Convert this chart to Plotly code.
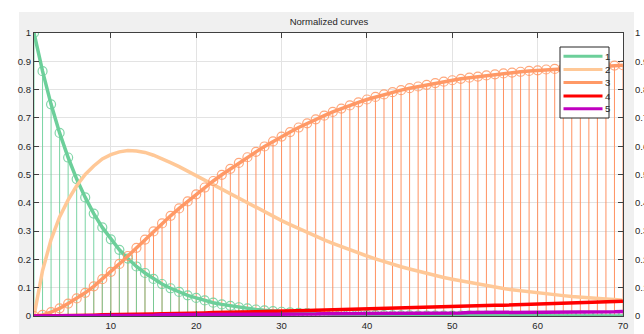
import plotly.graph_objects as go

# ---------------- data ----------------
x_vals = list(range(1, 71))

series_names = ["1", "2", "3", "4", "5"]
series_colors = ["#6ccf9a", "#ffc897", "#ff9966", "#ff0000", "#c000c0"]

s1 = [1.000, 0.865, 0.748, 0.647, 0.560, 0.484, 0.419, 0.362, 0.313, 0.271,
      0.234, 0.203, 0.175, 0.152, 0.131, 0.113, 0.098, 0.085, 0.073, 0.064,
      0.055, 0.047, 0.041, 0.036, 0.031, 0.027, 0.023, 0.020, 0.017, 0.015,
      0.013, 0.011, 0.010, 0.008, 0.007, 0.006, 0.005, 0.005, 0.004, 0.003,
      0.003, 0.003, 0.002, 0.002, 0.002, 0.001, 0.001, 0.001, 0.001, 0.001,
      0.001, 0.001, 0.001, 0.001, 0.001, 0.000, 0.000, 0.000, 0.000, 0.000,
      0.000, 0.000, 0.000, 0.000, 0.000, 0.000, 0.000, 0.000, 0.000, 0.000]

s2 = [0.000, 0.160, 0.270, 0.350, 0.410, 0.460, 0.500, 0.530, 0.555, 0.570,
      0.580, 0.585, 0.583, 0.578, 0.568, 0.556, 0.542, 0.528, 0.512, 0.496,
      0.480, 0.463, 0.447, 0.430, 0.414, 0.398, 0.382, 0.367, 0.352, 0.337,
      0.323, 0.309, 0.295, 0.282, 0.269, 0.257, 0.245, 0.234, 0.223, 0.212,
      0.202, 0.192, 0.183, 0.174, 0.166, 0.158, 0.150, 0.143, 0.136, 0.130,
      0.124, 0.118, 0.112, 0.107, 0.102, 0.097, 0.093, 0.089, 0.085, 0.081,
      0.078, 0.075, 0.072, 0.069, 0.066, 0.064, 0.062, 0.060, 0.058, 0.056]

s3 = [0.000, 0.004, 0.014, 0.027, 0.044, 0.062, 0.082, 0.105, 0.130, 0.156,
      0.184, 0.212, 0.241, 0.270, 0.299, 0.327, 0.354, 0.380, 0.405, 0.430,
      0.454, 0.477, 0.499, 0.520, 0.541, 0.561, 0.580, 0.599, 0.617, 0.634,
      0.650, 0.666, 0.681, 0.695, 0.708, 0.721, 0.733, 0.744, 0.755, 0.765,
      0.774, 0.783, 0.791, 0.798, 0.805, 0.811, 0.817, 0.823, 0.828, 0.833,
      0.838, 0.842, 0.846, 0.850, 0.854, 0.857, 0.860, 0.863, 0.866, 0.868,
      0.871, 0.873, 0.875, 0.877, 0.879, 0.881, 0.882, 0.884, 0.885, 0.886]

s4 = [0.000, 0.000, 0.001, 0.001, 0.002, 0.002, 0.003, 0.003, 0.004, 0.004,
      0.005, 0.005, 0.006, 0.006, 0.007, 0.008, 0.008, 0.009, 0.010, 0.010,
      0.011, 0.012, 0.012, 0.013, 0.014, 0.014, 0.015, 0.016, 0.016, 0.017,
      0.018, 0.019, 0.019, 0.020, 0.021, 0.022, 0.022, 0.023, 0.024, 0.025,
      0.026, 0.027, 0.027, 0.028, 0.029, 0.030, 0.031, 0.032, 0.032, 0.033,
      0.034, 0.035, 0.036, 0.037, 0.038, 0.038, 0.039, 0.040, 0.041, 0.042,
      0.043, 0.044, 0.045, 0.046, 0.047, 0.048, 0.049, 0.050, 0.051, 0.052]

s5 = [0.000, 0.000, 0.000, 0.001, 0.001, 0.001, 0.001, 0.002, 0.002, 0.002,
      0.002, 0.003, 0.003, 0.003, 0.003, 0.004, 0.004, 0.004, 0.004, 0.004,
      0.005, 0.005, 0.005, 0.005, 0.005, 0.006, 0.006, 0.006, 0.006, 0.006,
      0.007, 0.007, 0.007, 0.007, 0.008, 0.008, 0.008, 0.008, 0.009, 0.009,
      0.009, 0.009, 0.010, 0.010, 0.010, 0.010, 0.010, 0.011, 0.011, 0.011,
      0.011, 0.012, 0.012, 0.012, 0.012, 0.012, 0.013, 0.013, 0.013, 0.013,
      0.014, 0.014, 0.014, 0.014, 0.014, 0.015, 0.015, 0.015, 0.015, 0.016]

x_ticks = [10, 20, 30, 40, 50, 60, 70]
y_ticks = [0, 0.1, 0.2, 0.3, 0.4, 0.5, 0.6, 0.7, 0.8, 0.9, 1]
title_text = "Normalized curves"

# ---------------- layout geometry ----------------
W, H = 644, 334
L, R, T, B = 34, 21, 33, 18
PW, PH = W - L - R, H - T - B


def px(xp):
    return (xp - L) / PW


def py(yp):
    return (H - B - yp) / PH


FONT = "Liberation Sans"
TXT = "#262626"

fig = go.Figure()


def stems(xs, ys):
    sx, sy = [], []
    for a, b in zip(xs, ys):
        sx += [a, a, None]
        sy += [0, b, None]
    return sx, sy


# stems for series 1 and 3
for ys, col in [(s3, "rgba(255,140,90,0.95)"), (s1, "rgba(108,207,154,0.9)")]:
    sx, sy = stems(x_vals, ys)
    fig.add_trace(go.Scatter(x=sx, y=sy, mode="lines",
                             line=dict(color=col, width=1),
                             showlegend=False, hoverinfo="skip"))

all_series = [s1, s2, s3, s4, s5]
for i, ys in enumerate(all_series):
    col = series_colors[i]
    fig.add_trace(go.Scatter(x=x_vals, y=ys, mode="lines",
                             line=dict(color=col, width=3.5),
                             name=series_names[i], showlegend=False,
                             yaxis="y2" if i == 4 else "y"))
    if i in (0, 2):
        fig.add_trace(go.Scatter(x=x_vals, y=ys, mode="markers",
                                 marker=dict(symbol="circle-open", size=9,
                                             color=col, opacity=0.85,
                                             line=dict(width=1.2, color=col)),
                                 showlegend=False, hoverinfo="skip"))

shapes = []
# white strips outside the grey figure panel
shapes.append(dict(type="rect", xref="paper", yref="paper",
                   x0=px(-5), x1=px(W + 5), y0=py(12), y1=py(-5),
                   fillcolor="white", line=dict(width=0), layer="below"))
shapes.append(dict(type="rect", xref="paper", yref="paper",
                   x0=px(-5), x1=px(19), y0=py(H + 5), y1=py(-5),
                   fillcolor="white", line=dict(width=0), layer="below"))
shapes.append(dict(type="rect", xref="paper", yref="paper",
                   x0=px(634), x1=px(W + 5), y0=py(H + 5), y1=py(-5),
                   fillcolor="white", line=dict(width=0), layer="below"))

# manual legend
lx0, lx1, ly0, ly1 = 560, 609, 47, 118
shapes.append(dict(type="rect", xref="paper", yref="paper",
                   x0=px(lx0), x1=px(lx1), y0=py(ly1), y1=py(ly0),
                   fillcolor="white", line=dict(color="#262626", width=1),
                   layer="above"))
annotations = []
row_y = [56.3, 69.5, 82.5, 96, 108.7]
for i, name in enumerate(series_names):
    shapes.append(dict(type="line", xref="paper", yref="paper",
                       x0=px(563.5), x1=px(602.5), y0=py(row_y[i]), y1=py(row_y[i]),
                       line=dict(color=series_colors[i], width=3), layer="above"))
    annotations.append(dict(xref="paper", yref="paper", x=px(603), y=py(row_y[i]),
                            text=name, showarrow=False, xanchor="left", yanchor="middle",
                            font=dict(family=FONT, size=9.5, color=TXT)))

axis_common = dict(showline=True, linecolor="#404040", linewidth=1.2,
                   ticks="inside", ticklen=5, tickcolor="#404040", tickwidth=1,
                   showgrid=True, gridcolor="#e3e3e3", gridwidth=1, zeroline=False,
                   automargin=False,
                   tickfont=dict(family=FONT, size=9.5, color=TXT))

fig.update_layout(
    width=W, height=H,
    margin=dict(l=L, r=R, t=T, b=B, pad=0, autoexpand=False),
    paper_bgcolor="#f0f0f0", plot_bgcolor="white",
    showlegend=False,
    title=dict(text=title_text, x=px(329), xref="paper", xanchor="center",
               y=1 - 22 / H, yanchor="middle", yref="container",
               font=dict(family=FONT, size=9.5, color=TXT)),
    xaxis=dict(range=[1, 70], tickvals=x_ticks, mirror="ticks", **axis_common),
    yaxis=dict(range=[0, 1], tickvals=y_ticks, mirror="ticks", **axis_common),
    yaxis2=dict(range=[0, 1], tickvals=y_ticks, overlaying="y", side="right",
                showline=False, showgrid=False, ticks="", zeroline=False,
                automargin=False,
                tickfont=dict(family=FONT, size=9.5, color=TXT), ticklabelstandoff=11),
    shapes=shapes, annotations=annotations,
)

fig.write_html("out.html", config=dict(displayModeBar=False),
               post_script="document.body.style.margin='0';"
                           "document.body.style.padding='0';"
                           "document.body.style.overflow='hidden';")
